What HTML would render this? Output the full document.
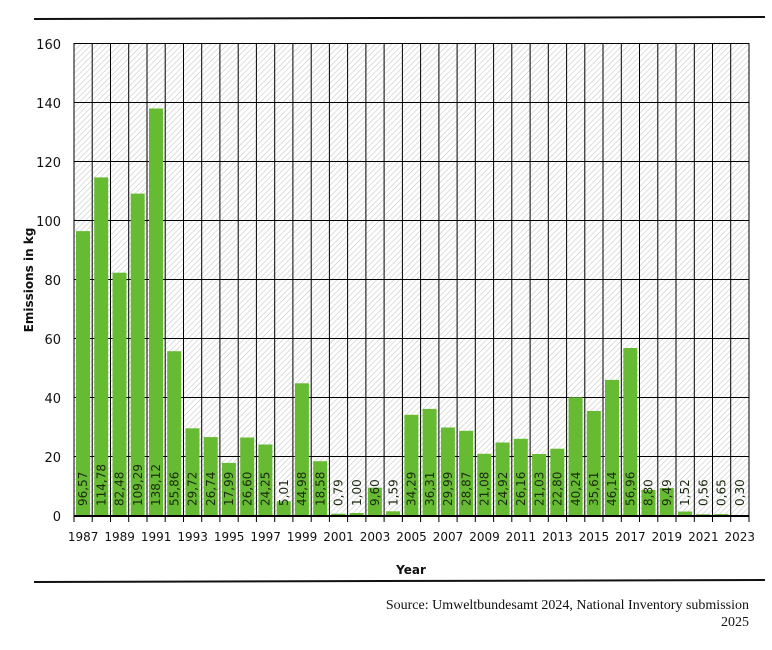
<!DOCTYPE html>
<html><head><meta charset="utf-8"><style>body{margin:0;background:#fff}svg{display:block}</style></head><body>
<svg width="772" height="650" xmlns="http://www.w3.org/2000/svg" font-family="DejaVu Sans, sans-serif">
<defs><pattern id="h" width="4" height="4" patternUnits="userSpaceOnUse" patternTransform="rotate(45)"><rect width="4" height="4" fill="#fff"/><line x1="0" y1="0" x2="0" y2="4" stroke="#c8c8c8" stroke-width="1.2"/></pattern></defs>
<line x1="34" y1="19" x2="765" y2="17" stroke="#111" stroke-width="2"/>
<line x1="34" y1="582" x2="765" y2="580" stroke="#111" stroke-width="2"/>
<rect x="74" y="43.5" width="675" height="472.5" fill="url(#h)"/>
<g stroke="#000" stroke-width="1">
<line x1="74" y1="43.5" x2="749" y2="43.5"/><line x1="74" y1="102.5" x2="749" y2="102.5"/><line x1="74" y1="161.5" x2="749" y2="161.5"/><line x1="74" y1="220.5" x2="749" y2="220.5"/><line x1="74" y1="279.5" x2="749" y2="279.5"/><line x1="74" y1="338.5" x2="749" y2="338.5"/><line x1="74" y1="397.5" x2="749" y2="397.5"/><line x1="74" y1="456.5" x2="749" y2="456.5"/>
</g>
<g stroke="#000" stroke-width="1">
<line x1="74" y1="43" x2="74" y2="522"/><line x1="92.2" y1="43" x2="92.2" y2="522"/><line x1="110.5" y1="43" x2="110.5" y2="522"/><line x1="128.7" y1="43" x2="128.7" y2="522"/><line x1="147" y1="43" x2="147" y2="522"/><line x1="165.2" y1="43" x2="165.2" y2="522"/><line x1="183.5" y1="43" x2="183.5" y2="522"/><line x1="201.7" y1="43" x2="201.7" y2="522"/><line x1="219.9" y1="43" x2="219.9" y2="522"/><line x1="238.2" y1="43" x2="238.2" y2="522"/><line x1="256.4" y1="43" x2="256.4" y2="522"/><line x1="274.7" y1="43" x2="274.7" y2="522"/><line x1="292.9" y1="43" x2="292.9" y2="522"/><line x1="311.2" y1="43" x2="311.2" y2="522"/><line x1="329.4" y1="43" x2="329.4" y2="522"/><line x1="347.6" y1="43" x2="347.6" y2="522"/><line x1="365.9" y1="43" x2="365.9" y2="522"/><line x1="384.1" y1="43" x2="384.1" y2="522"/><line x1="402.4" y1="43" x2="402.4" y2="522"/><line x1="420.6" y1="43" x2="420.6" y2="522"/><line x1="438.9" y1="43" x2="438.9" y2="522"/><line x1="457.1" y1="43" x2="457.1" y2="522"/><line x1="475.3" y1="43" x2="475.3" y2="522"/><line x1="493.6" y1="43" x2="493.6" y2="522"/><line x1="511.8" y1="43" x2="511.8" y2="522"/><line x1="530.1" y1="43" x2="530.1" y2="522"/><line x1="548.3" y1="43" x2="548.3" y2="522"/><line x1="566.6" y1="43" x2="566.6" y2="522"/><line x1="584.8" y1="43" x2="584.8" y2="522"/><line x1="603" y1="43" x2="603" y2="522"/><line x1="621.3" y1="43" x2="621.3" y2="522"/><line x1="639.5" y1="43" x2="639.5" y2="522"/><line x1="657.8" y1="43" x2="657.8" y2="522"/><line x1="676" y1="43" x2="676" y2="522"/><line x1="694.3" y1="43" x2="694.3" y2="522"/><line x1="712.5" y1="43" x2="712.5" y2="522"/><line x1="730.7" y1="43" x2="730.7" y2="522"/><line x1="749" y1="43" x2="749" y2="522"/>
</g>
<g fill="#66bb33">
<rect x="76" y="231.1" width="14" height="284.9"/><rect x="94.2" y="177.4" width="14" height="338.6"/><rect x="112.5" y="272.7" width="14" height="243.3"/><rect x="130.7" y="193.6" width="14" height="322.4"/><rect x="149" y="108.5" width="14" height="407.5"/><rect x="167.2" y="351.2" width="14" height="164.8"/><rect x="185.5" y="428.3" width="14" height="87.7"/><rect x="203.7" y="437.1" width="14" height="78.9"/><rect x="221.9" y="462.9" width="14" height="53.1"/><rect x="240.2" y="437.5" width="14" height="78.5"/><rect x="258.4" y="444.5" width="14" height="71.5"/><rect x="276.7" y="501.2" width="14" height="14.8"/><rect x="294.9" y="383.3" width="14" height="132.7"/><rect x="313.2" y="461.2" width="14" height="54.8"/><rect x="331.4" y="513.7" width="14" height="2.3"/><rect x="349.6" y="513" width="14" height="3"/><rect x="367.9" y="487.7" width="14" height="28.3"/><rect x="386.1" y="511.3" width="14" height="4.7"/><rect x="404.4" y="414.8" width="14" height="101.2"/><rect x="422.6" y="408.9" width="14" height="107.1"/><rect x="440.9" y="427.5" width="14" height="88.5"/><rect x="459.1" y="430.8" width="14" height="85.2"/><rect x="477.3" y="453.8" width="14" height="62.2"/><rect x="495.6" y="442.5" width="14" height="73.5"/><rect x="513.8" y="438.8" width="14" height="77.2"/><rect x="532.1" y="454" width="14" height="62"/><rect x="550.3" y="448.7" width="14" height="67.3"/><rect x="568.6" y="397.3" width="14" height="118.7"/><rect x="586.8" y="411" width="14" height="105"/><rect x="605" y="379.9" width="14" height="136.1"/><rect x="623.3" y="348" width="14" height="168"/><rect x="641.5" y="490" width="14" height="26"/><rect x="659.8" y="488" width="14" height="28"/><rect x="678" y="511.5" width="14" height="4.5"/><rect x="696.3" y="514.3" width="14" height="1.7"/><rect x="714.5" y="514.1" width="14" height="1.9"/><rect x="732.7" y="515.1" width="14" height="0.9"/>
</g>
<line x1="74" y1="516" x2="749" y2="516" stroke="#000" stroke-width="2"/>
<g font-size="12" fill="#1c2a10">
<text transform="translate(87.2,506) rotate(-90)">96,57</text><text transform="translate(105.4,506) rotate(-90)">114,78</text><text transform="translate(123.7,506) rotate(-90)">82,48</text><text transform="translate(141.9,506) rotate(-90)">109,29</text><text transform="translate(160.2,506) rotate(-90)">138,12</text><text transform="translate(178.4,506) rotate(-90)">55,86</text><text transform="translate(196.7,506) rotate(-90)">29,72</text><text transform="translate(214.9,506) rotate(-90)">26,74</text><text transform="translate(233.1,506) rotate(-90)">17,99</text><text transform="translate(251.4,506) rotate(-90)">26,60</text><text transform="translate(269.6,506) rotate(-90)">24,25</text><text transform="translate(287.9,506) rotate(-90)">5,01</text><text transform="translate(306.1,506) rotate(-90)">44,98</text><text transform="translate(324.4,506) rotate(-90)">18,58</text><text transform="translate(342.6,506) rotate(-90)">0,79</text><text transform="translate(360.8,506) rotate(-90)">1,00</text><text transform="translate(379.1,506) rotate(-90)">9,60</text><text transform="translate(397.3,506) rotate(-90)">1,59</text><text transform="translate(415.6,506) rotate(-90)">34,29</text><text transform="translate(433.8,506) rotate(-90)">36,31</text><text transform="translate(452.1,506) rotate(-90)">29,99</text><text transform="translate(470.3,506) rotate(-90)">28,87</text><text transform="translate(488.5,506) rotate(-90)">21,08</text><text transform="translate(506.8,506) rotate(-90)">24,92</text><text transform="translate(525,506) rotate(-90)">26,16</text><text transform="translate(543.3,506) rotate(-90)">21,03</text><text transform="translate(561.5,506) rotate(-90)">22,80</text><text transform="translate(579.8,506) rotate(-90)">40,24</text><text transform="translate(598,506) rotate(-90)">35,61</text><text transform="translate(616.2,506) rotate(-90)">46,14</text><text transform="translate(634.5,506) rotate(-90)">56,96</text><text transform="translate(652.7,506) rotate(-90)">8,80</text><text transform="translate(671,506) rotate(-90)">9,49</text><text transform="translate(689.2,506) rotate(-90)">1,52</text><text transform="translate(707.5,506) rotate(-90)">0,56</text><text transform="translate(725.7,506) rotate(-90)">0,65</text><text transform="translate(743.9,506) rotate(-90)">0,30</text>
</g>
<g font-size="13" fill="#111" text-anchor="end">
<text x="61" y="49">160</text><text x="61" y="108">140</text><text x="61" y="167">120</text><text x="61" y="226">100</text><text x="61" y="285">80</text><text x="61" y="344">60</text><text x="61" y="403">40</text><text x="61" y="462">20</text><text x="61" y="521">0</text>
</g>
<g font-size="12" fill="#111" text-anchor="middle">
<text x="83.1" y="541">1987</text><text x="119.6" y="541">1989</text><text x="156.1" y="541">1991</text><text x="192.6" y="541">1993</text><text x="229.1" y="541">1995</text><text x="265.6" y="541">1997</text><text x="302" y="541">1999</text><text x="338.5" y="541">2001</text><text x="375" y="541">2003</text><text x="411.5" y="541">2005</text><text x="448" y="541">2007</text><text x="484.5" y="541">2009</text><text x="520.9" y="541">2011</text><text x="557.4" y="541">2013</text><text x="593.9" y="541">2015</text><text x="630.4" y="541">2017</text><text x="666.9" y="541">2019</text><text x="703.4" y="541">2021</text><text x="739.8" y="541">2023</text>
</g>
<text x="411" y="574" font-size="12" font-weight="bold" text-anchor="middle" fill="#111">Year</text>
<text transform="translate(33,280) rotate(-90)" font-size="12" font-weight="bold" text-anchor="middle" fill="#111">Emissions in kg</text>
<g font-family="Liberation Serif, serif" font-size="14" fill="#111" text-anchor="end">
<text x="749" y="609">Source: Umweltbundesamt 2024, National Inventory submission</text>
<text x="749" y="626">2025</text>
</g>
</svg>
</body></html>
